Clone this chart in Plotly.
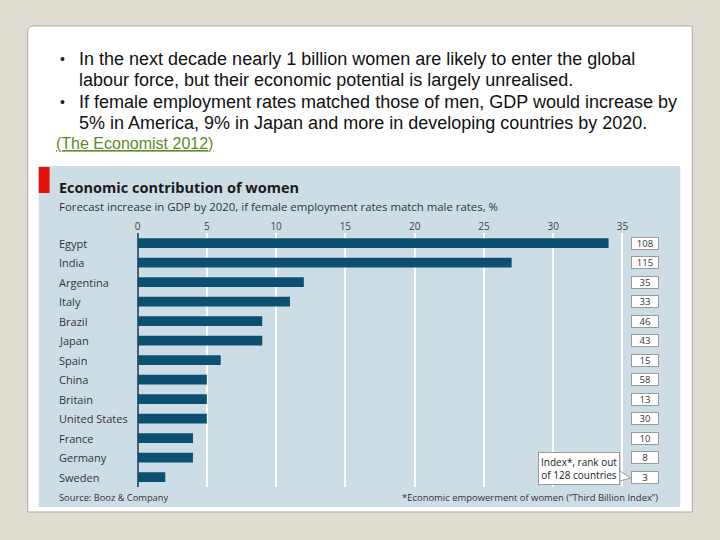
import plotly.graph_objects as go

countries = ["Egypt", "India", "Argentina", "Italy", "Brazil", "Japan", "Spain",
             "China", "Britain", "United States", "France", "Germany", "Sweden"]
gdp_increase = [34, 27, 12, 11, 9, 9, 6, 5, 5, 5, 4, 4, 2]
index_rank = [108, 115, 35, 33, 46, 43, 15, 58, 13, 30, 10, 8, 3]
x_ticks = [0, 5, 10, 15, 20, 25, 30, 35]

W, H = 720, 540
def px(x):
    return x / W
def py(y):
    return 1 - y / H

BAR = "#0b5070"
PANEL = "#cddde6"
FONT = "Open Sans"

fig = go.Figure()
fig.add_trace(go.Bar(
    x=gdp_increase, y=countries, orientation="h",
    marker=dict(color=BAR, line=dict(width=0)), width=0.5,
    hoverinfo="x+y", showlegend=False,
))

x0_px, unit = 135.7, 13.97
x_max = 35.25
top_px, row = 233.25, 19.5

shapes = []
r = 5
cx0, cy0, cx1, cy1 = 25, 26, 695, 512
path = (f"M {px(cx0)} {py(cy1)} L {px(cx0)} {py(cy0 + r)} "
        f"Q {px(cx0)} {py(cy0)} {px(cx0 + r)} {py(cy0)} "
        f"L {px(cx1)} {py(cy0)} L {px(cx1)} {py(cy1)} Z")
shapes.append(dict(type="path", xref="paper", yref="paper", path=path,
                   fillcolor="white", line=dict(color="#a8a8a8", width=1), layer="below"))
shapes.append(dict(type="rect", xref="paper", yref="paper",
                   x0=px(36), x1=px(683), y0=py(507), y1=py(166),
                   fillcolor=PANEL, line=dict(width=0), layer="below"))
shapes.append(dict(type="rect", xref="paper", yref="paper",
                   x0=px(36), x1=px(47), y0=py(193), y1=py(167),
                   fillcolor="#e3120b", line=dict(width=0), layer="below"))
shapes.append(dict(type="path", xref="paper", yref="paper",
                   path=f"M {px(622)} {py(471)} L {px(633)} {py(478)} L {px(622)} {py(481)} Z",
                   fillcolor="white", line=dict(color="#9a9a9a", width=1)))

annotations = []
header_lines = [
    (59, "•", 75, "In the next decade nearly 1 billion women are likely to enter the global"),
    (80, None, 75, "labour force, but their economic potential is largely unrealised."),
    (102, "•", 75, "If female employment rates matched those of men, GDP would increase by"),
    (123, None, 75, "5% in America, 9% in Japan and more in developing countries by 2020."),
]
for y, bullet, xt, txt in header_lines:
    if bullet:
        annotations.append(dict(xref="paper", yref="paper", x=px(55), y=py(y), text=bullet,
                                showarrow=False, xanchor="left", yanchor="middle",
                                font=dict(family="Liberation Sans", size=14, color="#222")))
    annotations.append(dict(xref="paper", yref="paper", x=px(xt), y=py(y), text=txt,
                            showarrow=False, xanchor="left", yanchor="middle",
                            font=dict(family="Liberation Sans", size=18, color="#111")))
annotations.append(dict(xref="paper", yref="paper", x=px(51), y=py(144),
                        text="<u>(The Economist 2012)</u>", showarrow=False,
                        xanchor="left", yanchor="middle",
                        font=dict(family="Liberation Sans", size=16, color="#5f8a25")))
annotations.append(dict(xref="paper", yref="paper", x=px(54), y=py(187),
                        text="<b>Economic contribution of women</b>", showarrow=False,
                        xanchor="left", yanchor="middle",
                        font=dict(family=FONT, size=14.5, color="#1a1a1a")))
annotations.append(dict(xref="paper", yref="paper", x=px(54), y=py(206),
                        text="Forecast increase in GDP by 2020, if female employment rates match male rates, %",
                        showarrow=False, xanchor="left", yanchor="middle",
                        font=dict(family=FONT, size=11.4, color="#333")))
for c, rk in zip(countries, index_rank):
    annotations.append(dict(xref="paper", yref="y", x=px(54), y=c, text=c,
                            showarrow=False, xanchor="left", yanchor="middle",
                            font=dict(family=FONT, size=11, color="#333")))
    annotations.append(dict(xref="paper", yref="y", x=px(647), y=c, text=str(rk),
                            showarrow=False, xanchor="center", yanchor="middle",
                            width=24, height=9, borderpad=1,
                            bgcolor="white", bordercolor="#9a9a9a", borderwidth=1,
                            font=dict(family=FONT, size=9.5, color="#333")))
annotations.append(dict(xref="paper", yref="paper", x=px(581), y=py(468),
                        text="Index*, rank out<br>of 128 countries", showarrow=False,
                        xanchor="center", yanchor="middle", align="center",
                        bgcolor="white", bordercolor="#9a9a9a", borderwidth=1, borderpad=2,
                        font=dict(family=FONT, size=10, color="#222")))
annotations.append(dict(xref="paper", yref="paper", x=px(54), y=py(497),
                        text="Source: Booz & Company", showarrow=False,
                        xanchor="left", yanchor="middle",
                        font=dict(family=FONT, size=9.3, color="#333")))
annotations.append(dict(xref="paper", yref="paper", x=px(663), y=py(497),
                        text="*Economic empowerment of women (\u201cThird Billion Index\u201d)",
                        showarrow=False, xanchor="right", yanchor="middle",
                        font=dict(family=FONT, size=9.45, color="#333")))

fig.update_layout(
    width=W, height=H,
    margin=dict(l=0, r=0, t=0, b=0),
    paper_bgcolor="#e1dcd1",
    plot_bgcolor="rgba(0,0,0,0)",
    shapes=shapes,
    annotations=annotations,
    xaxis=dict(
        domain=[px(x0_px), px(x0_px + x_max * unit)],
        range=[0, x_max], side="top",
        tickvals=x_ticks, ticktext=[str(v) for v in x_ticks],
        showgrid=True, gridcolor="white", gridwidth=1.5,
        zeroline=True, zerolinecolor="#4a6272", zerolinewidth=1.5,
        ticks="", showline=False,
        tickfont=dict(family=FONT, size=10, color="#444"),
        fixedrange=True,
    ),
    yaxis=dict(
        domain=[py(top_px + row * 13), py(top_px)],
        categoryorder="array", categoryarray=countries,
        range=[12.5, -0.5],
        showticklabels=False, showgrid=False, zeroline=False, ticks="",
        fixedrange=True,
    ),
)

fig.write_html("out.html", config={"displayModeBar": False},
               post_script="document.body.style.margin='0';document.body.style.overflow='hidden';")
